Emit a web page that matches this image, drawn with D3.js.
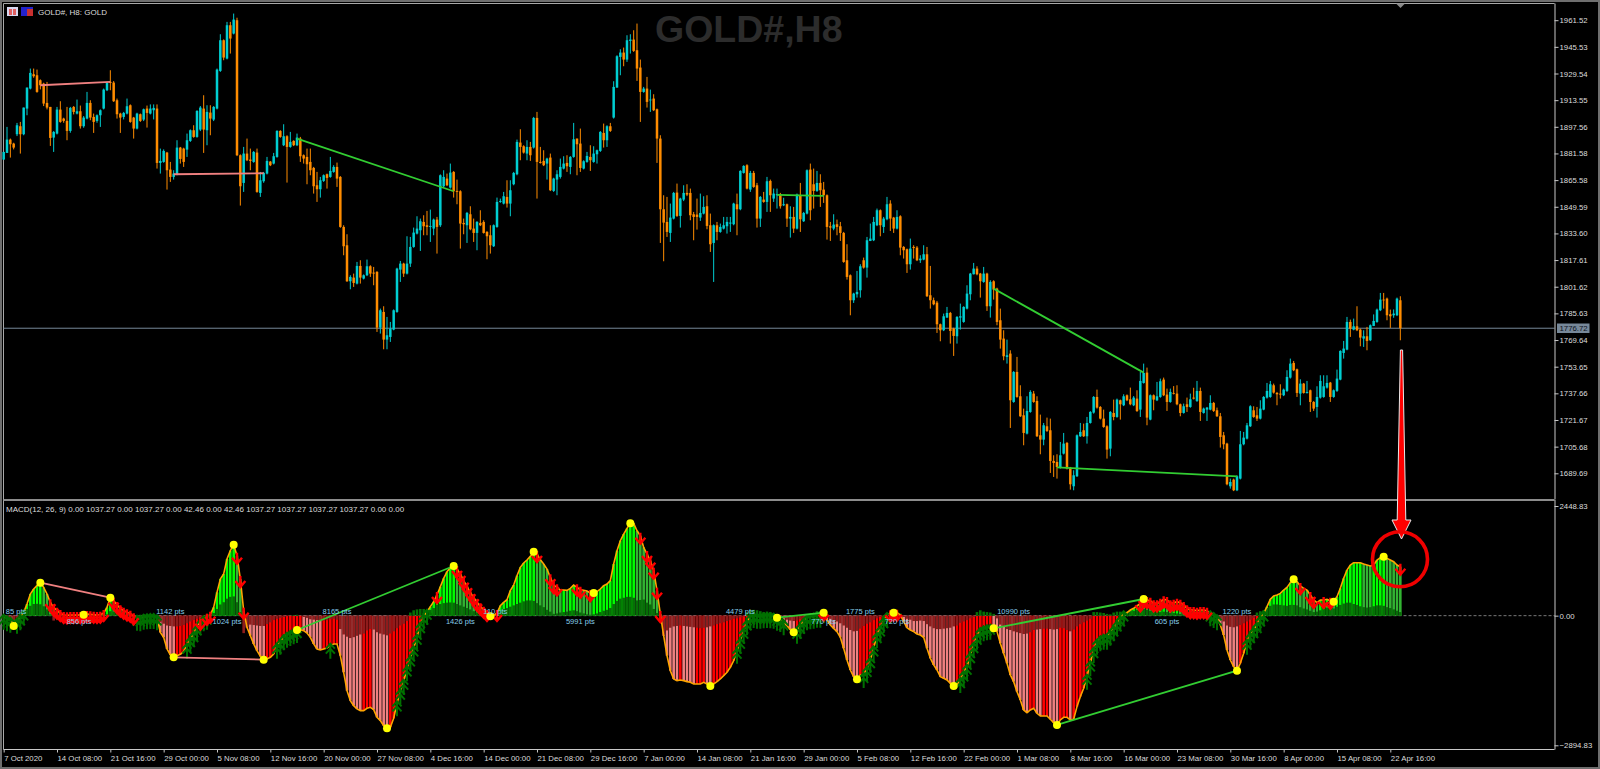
<!DOCTYPE html>
<html>
<head>
<meta charset="utf-8">
<script src="https://cdn.jsdelivr.net/npm/d3@7"></script>
<style>
html, body { margin: 0; padding: 0; background: #000; overflow: hidden; }
svg { display: block; }
text { font-family: "Liberation Sans", Arial, sans-serif; }
</style>
</head>
<body>
<div id="chart"></div>
<script>
// H8 candles
var opens = [
1877.9,1881.9,1889.9,1887.5,1893.1,1897.9,1893.1,1908.5,1920.5,1929.1,
1928.5,1925.5,1923.5,1911.9,1909.5,1891.1,1893.5,1907.9,1902.5,1901.1,
1895.1,1909.5,1905.5,1906.9,1897.9,1902.5,1911.9,1903.5,1901.1,1904.5,
1908.5,1919.5,1924.5,1924.1,1913.5,1905.5,1903.5,1905.5,1910.5,1903.1,
1896.5,1905.1,1901.9,1908.5,1905.5,1907.5,1908.5,1875.9,1876.5,1882.1,
1871.9,1867.5,1869.1,1885.1,1884.5,1883.9,1889.1,1895.5,1891.5,1895.9,
1908.5,1895.5,1906.1,1901.9,1908.5,1931.1,1949.5,1938.5,1958.5,1953.5,
1961.5,1880.5,1863.9,1881.5,1877.9,1876.5,1882.1,1857.9,1864.9,1869.5,
1876.7,1875.5,1879.5,1895.1,1886.5,1891.9,1885.5,1889.1,1886.5,1890.5,
1880.5,1879.5,1876.5,1872.9,1862.5,1860.1,1865.1,1869.1,1867.5,1870.5,
1873.5,1867.5,1837.5,1826.5,1804.9,1807.1,1803.5,1814.1,1806.5,1808.5,
1813.9,1810.1,1810.5,1777.1,1786.5,1769.9,1771.5,1775.9,1786.5,1811.9,
1815.5,1809.5,1815.5,1825.5,1833.5,1835.5,1840.5,1838.5,1837.5,1836.5,
1841.9,1838.5,1861.9,1866.5,1861.1,1870.5,1859.1,1858.9,1839.9,1838.5,
1845.1,1836.5,1833.9,1839.9,1840.5,1834.5,1832.5,1825.9,1837.5,1852.5,
1851.5,1855.5,1851.5,1863.1,1869.1,1888.1,1885.9,1881.5,1885.5,1885.1,
1902.9,1876.5,1877.1,1875.5,1879.1,1859.1,1865.9,1867.5,1872.5,1875.9,
1873.5,1879.5,1890.5,1887.5,1872.5,1876.5,1879.5,1876.5,1881.1,1883.1,
1893.9,1889.5,1897.9,1903.1,1921.1,1939.5,1942.1,1937.9,1949.1,1949.9,
1943.5,1933.1,1918.5,1920.5,1913.5,1914.5,1908.1,1890.5,1848.1,1840.5,
1833.9,1842.5,1858.1,1844.1,1853.9,1857.9,1857.9,1845.1,1844.9,1843.1,
1845.5,1849.9,1838.5,1827.9,1838.5,1834.5,1836.5,1837.9,1839.5,1839.1,
1851.1,1848.1,1869.9,1874.5,1859.9,1869.9,1862.5,1842.5,1853.9,1852.5,
1865.1,1854.5,1856.5,1857.1,1850.5,1851.1,1842.5,1843.5,1836.5,1856.5,
1840.9,1845.5,1871.9,1863.1,1859.1,1863.9,1859.9,1856.5,1837.9,1836.5,
1839.1,1837.9,1833.9,1817.5,1808.5,1793.5,1797.1,1799.5,1817.5,1813.1,
1829.1,1829.5,1838.5,1847.5,1837.5,1842.1,1851.5,1843.1,1836.5,1843.9,
1825.5,1824.1,1815.1,1825.5,1825.1,1817.5,1817.9,1821.1,1796.5,1793.5,
1792.1,1779.1,1775.5,1783.1,1785.9,1776.5,1771.9,1783.1,1780.5,1788.5,
1797.1,1809.1,1812.5,1809.5,1804.5,1809.5,1789.9,1804.9,1800.5,1781.5,
1770.5,1759.5,1761.5,1732.5,1750.5,1735.9,1724.5,1713.5,1726.5,1737.5,
1733.1,1712.5,1709.9,1717.9,1715.5,1697.1,1696.5,1693.1,1701.5,1707.9,
1693.1,1681.9,1687.9,1711.9,1715.5,1711.9,1719.9,1726.1,1735.5,1729.5,
1722.5,1717.9,1704.5,1725.9,1723.5,1733.5,1730.5,1736.5,1734.1,1730.5,
1734.5,1727.9,1743.9,1750.1,1721.9,1736.5,1733.5,1735.5,1745.9,1736.9,
1732.5,1737.9,1737.5,1731.1,1725.9,1731.1,1729.5,1735.1,1733.1,1739.1,
1725.9,1727.9,1727.9,1731.9,1727.5,1723.9,1712.5,1707.5,1681.9,1685.9,
1679.5,1686.5,1707.1,1710.5,1717.9,1727.5,1724.5,1722.5,1727.9,1735.1,
1735.5,1742.5,1737.9,1737.5,1736.5,1739.1,1747.1,1755.9,1752.1,1737.5,
1743.5,1737.9,1739.5,1732.5,1729.5,1735.1,1735.5,1741.1,1744.1,1735.5,
1739.1,1745.9,1761.9,1763.9,1780.5,1775.9,1777.9,1775.9,1770.5,1771.9,
1769.5,1778.1,1780.5,1787.5,1793.9,1794.5,1785.1,1784.5,1784.5,1793.5];
var closes = [
1882.5,1889.9,1887.1,1885.1,1898.5,1893.1,1909.1,1921.1,1929.9,1927.9,
1918.5,1922.5,1911.5,1909.1,1890.9,1894.5,1907.9,1900.5,1901.1,1895.1,
1908.9,1906.5,1906.9,1897.9,1903.1,1911.9,1903.1,1900.5,1904.5,1907.5,
1919.9,1923.9,1923.9,1912.9,1905.1,1903.1,1905.9,1909.9,1900.5,1896.5,
1905.5,1901.1,1908.1,1905.9,1908.5,1908.9,1875.9,1877.1,1883.1,1871.5,
1867.5,1869.5,1885.1,1878.3,1876.5,1889.5,1895.5,1891.5,1907.1,1909.1,
1895.9,1906.5,1902.5,1909.5,1931.9,1949.5,1939.1,1958.5,1950.5,1961.9,
1880.5,1861.9,1881.5,1877.5,1877.1,1882.5,1858.5,1865.5,1869.9,1877.1,
1874.5,1879.9,1895.1,1891.5,1891.9,1885.5,1888.5,1886.5,1891.1,1879.9,
1878.5,1875.1,1871.5,1861.9,1860.1,1865.5,1868.5,1866.9,1871.1,1873.5,
1866.5,1837.5,1825.9,1804.9,1807.5,1803.9,1814.1,1807.1,1808.5,1813.9,
1809.5,1809.5,1777.1,1787.5,1769.9,1772.5,1776.5,1787.5,1812.5,1815.5,
1809.5,1815.5,1825.5,1834.1,1836.5,1840.9,1837.9,1837.5,1838.1,1841.9,
1837.5,1868.5,1867.5,1862.5,1870.1,1858.9,1858.5,1839.5,1839.1,1845.9,
1836.1,1833.9,1840.5,1838.5,1833.9,1831.9,1826.5,1838.5,1852.5,1853.1,
1855.9,1851.5,1859.5,1869.9,1888.5,1885.5,1882.1,1885.5,1880.5,1902.9,
1876.5,1875.9,1874.5,1878.5,1859.5,1866.5,1869.1,1873.5,1875.5,1873.9,
1879.5,1890.1,1887.1,1872.9,1876.9,1880.1,1877.5,1881.5,1883.5,1894.5,
1889.5,1897.9,1895.1,1921.5,1939.9,1942.1,1937.9,1949.5,1949.9,1943.1,
1932.5,1918.5,1920.5,1912.5,1913.9,1907.5,1890.5,1848.1,1840.1,1834.5,
1843.1,1857.9,1844.1,1854.5,1857.9,1856.9,1844.5,1843.5,1843.5,1845.9,
1849.5,1838.1,1827.1,1838.5,1834.5,1837.5,1838.5,1840.5,1840.1,1851.5,
1848.1,1871.1,1874.1,1860.5,1869.9,1861.5,1842.5,1855.5,1852.5,1864.9,
1856.5,1857.5,1857.1,1849.9,1851.1,1842.5,1843.5,1836.5,1856.9,1842.1,
1845.9,1871.5,1847.5,1859.1,1863.9,1859.5,1856.5,1837.5,1837.1,1838.9,
1837.5,1833.9,1816.5,1807.5,1793.5,1797.5,1798.5,1813.9,1813.1,1829.5,
1830.5,1840.5,1847.5,1838.5,1842.5,1851.1,1842.5,1836.5,1843.5,1825.1,
1823.5,1815.1,1824.5,1824.9,1817.5,1818.5,1821.1,1795.9,1793.5,1791.1,
1779.1,1775.5,1783.9,1785.9,1775.1,1772.1,1783.5,1783.9,1789.5,1797.5,
1809.5,1812.5,1809.1,1804.9,1809.5,1789.9,1804.5,1799.9,1780.5,1769.9,
1759.9,1760.5,1733.5,1750.5,1735.5,1723.9,1713.9,1727.1,1738.5,1732.5,
1711.9,1709.9,1718.5,1715.1,1697.1,1695.9,1693.5,1700.5,1707.5,1692.5,
1683.1,1688.5,1712.5,1714.5,1711.9,1719.9,1726.5,1735.5,1729.1,1722.5,
1717.5,1703.9,1726.5,1723.5,1733.9,1731.1,1735.9,1733.5,1731.1,1735.1,
1727.1,1745.1,1749.9,1723.1,1736.5,1733.9,1735.9,1744.9,1736.5,1732.5,
1738.5,1737.5,1731.1,1725.9,1729.9,1729.5,1734.1,1734.5,1739.1,1726.5,
1728.5,1729.1,1731.9,1727.1,1723.9,1711.5,1707.1,1683.1,1684.5,1679.5,
1687.9,1707.1,1711.1,1718.5,1729.9,1723.5,1722.5,1728.5,1735.5,1739.1,
1743.1,1738.1,1737.1,1736.9,1739.9,1747.5,1755.5,1751.5,1737.9,1743.5,
1737.9,1738.5,1732.5,1728.5,1735.5,1745.1,1741.9,1743.9,1735.5,1739.5,
1746.5,1763.1,1764.5,1780.5,1776.5,1777.9,1775.5,1771.1,1771.9,1769.1,
1778.5,1781.1,1787.9,1793.9,1793.5,1784.5,1783.9,1785.5,1794.5,1776.72];
var highs = [
1882.5,1897.5,1890.5,1888,1899.9,1900.5,1909.1,1921.1,1932.5,1932.5,
1931.9,1926,1924,1924.5,1909.5,1895,1909.5,1912.9,1903,1909.5,
1909.5,1910,1913.9,1910.3,1904,1918.5,1913.5,1905.5,1905,1908,
1920.5,1924.5,1931.5,1925,1914.5,1906,1906.5,1914.5,1911,1903.5,
1906,1905.5,1908.5,1910.3,1911,1911,1911,1884.5,1884,1882.5,
1876.5,1871.5,1889.5,1885.5,1885,1893.5,1896,1898.5,1907.5,1910,
1916.5,1910.5,1910.5,1910,1932.5,1953.1,1950,1960.5,1960.5,1965.5,
1963,1881,1885.5,1890.5,1884.5,1883,1884.5,1870.5,1870.5,1879.5,
1877,1881.9,1895.5,1895.5,1899.1,1892.5,1894.5,1889.5,1893.5,1891.5,
1881,1884.5,1884.5,1873.5,1870.5,1867.5,1869,1869.5,1879.5,1874.5,
1876.1,1868,1838.5,1833.1,1808.5,1809.5,1816.5,1817.5,1809,1817.9,
1814.5,1813.5,1811,1788.5,1789.9,1783.5,1780.5,1788,1813,1817.1,
1816,1831.9,1831.5,1837.1,1843.9,1842.5,1844.5,1847.1,1847.9,1842.5,
1843.5,1869,1871.5,1869.5,1875.5,1871,1865.9,1859.5,1842.5,1846.5,
1849.9,1842.5,1841,1847.5,1841.5,1835,1838.5,1839,1855.1,1854.5,
1858.5,1865.5,1865.5,1870.5,1889.9,1896.1,1886.5,1889.5,1888.5,1903.5,
1906.5,1885.5,1883.5,1879,1881.5,1867,1871.5,1878.5,1879.9,1880.5,
1880,1899.9,1890.5,1896.5,1877.5,1882.5,1886.5,1885.9,1883.9,1895,
1899.5,1898.5,1899.9,1924.9,1940.5,1944.1,1945.1,1952.5,1953.1,1955.5,
1959.5,1937.9,1921.5,1927.5,1919.9,1917.1,1908.5,1892.5,1856.5,1855.5,
1851.5,1858.5,1863.5,1855,1862.5,1863.1,1860.5,1846.5,1854.5,1857.5,
1855.9,1856.5,1845.5,1839,1840.5,1839.5,1843.5,1843.5,1843.5,1852,
1857.5,1871.5,1874.5,1875.1,1871.1,1871.1,1863.9,1856,1858.5,1867.5,
1865.9,1860.5,1860.5,1857.9,1855,1851.5,1849.9,1849.5,1857.5,1863.9,
1846.5,1872,1875.5,1872.5,1871.1,1869.1,1864.5,1857,1840.5,1845.1,
1841.9,1840.5,1834.5,1827.1,1809,1798,1811.1,1815.1,1819.1,1831.5,
1839.5,1843.5,1848.5,1848,1843.5,1855.5,1853.5,1843.5,1847.5,1844.5,
1826,1824.5,1830.5,1826.5,1826,1820.5,1826.5,1825.5,1814.1,1795.1,
1793.1,1779.5,1785.5,1789.5,1786.5,1777,1784,1791.5,1789.9,1802.5,
1809.9,1815.9,1813.9,1809.9,1813.5,1810,1805.5,1805.5,1801,1788.5,
1775.5,1769.9,1763.5,1751,1759.5,1742.5,1728.5,1735.9,1739.5,1739.1,
1735.9,1724.9,1719.9,1723.1,1722.5,1700.5,1701.1,1708.5,1713.9,1708.5,
1693.5,1691.5,1713,1719.9,1719.5,1723.5,1727,1736,1739.9,1730,
1727.9,1718.5,1727,1733.9,1734.5,1733.9,1737.1,1737,1741.1,1736,
1739.5,1750.5,1755.5,1753.1,1737,1737,1744.5,1746.5,1747.1,1740.5,
1740.5,1742,1742.5,1731.5,1731.5,1735.1,1737.5,1741,1745.1,1741.1,
1729.1,1729.5,1736.5,1732.5,1729.1,1725.9,1714.5,1708,1686.5,1686.5,
1688.5,1715.1,1714.5,1719.9,1730.5,1729.9,1729.5,1733.5,1736,1743.9,
1745.1,1743.5,1738.5,1743.1,1740.5,1751.5,1758.5,1757.1,1752.5,1746.1,
1743.9,1745.1,1739.9,1733,1741.9,1748.5,1748.5,1748.5,1744.5,1740,
1751.9,1763.5,1769.1,1783.5,1781.9,1782.5,1789.9,1776.5,1775.5,1777.5,
1779,1785,1788.5,1797.9,1797.9,1795.1,1787.9,1788,1795.1,1795.9];
var lows = [
1877.9,1881.9,1879.1,1884,1892,1881.5,1892.5,1904.5,1920,1927,
1918,1920,1910,1908,1886.1,1882.5,1893,1900,1900,1889.5,
1894,1905,1905,1896.5,1897,1902,1901.5,1893.9,1900,1897.5,
1908,1919,1919.5,1912.5,1902.5,1893.9,1902,1905,1900,1890.5,
1896,1900.5,1901,1897.1,1905,1902,1872.5,1869.5,1876,1859.9,
1864.5,1865.9,1868.5,1875.5,1873.5,1879.5,1888.5,1891,1891,1895,
1881.9,1886.5,1892.5,1901,1908,1930.5,1937.5,1938,1941.5,1953,
1880,1850.3,1858.5,1877,1871.5,1876,1858,1855.5,1864,1869,
1874,1875,1879,1891,1886,1864.1,1885,1886,1886,1876.5,
1875.5,1863.1,1868.5,1857.5,1852.5,1855.1,1864.5,1860.5,1867,1870,
1861.5,1837,1820.5,1804.5,1800.1,1801.5,1803,1803.5,1806,1808,
1807.5,1802.5,1774.5,1773.5,1764.1,1764.1,1768.5,1775.5,1786,1804.5,
1807.5,1809,1813.5,1825,1833,1823.1,1832.5,1832.5,1828.5,1832.5,
1821.5,1837.5,1861,1862,1860.5,1855.1,1851.1,1824.5,1833.1,1827.9,
1835.5,1828.5,1823.5,1838,1833.5,1818.1,1821.5,1825.5,1837,1852,
1851,1849.1,1843.9,1862.5,1868.5,1877.5,1881.5,1877.5,1877.1,1884.5,
1854.5,1875.5,1874,1865.9,1859,1858.5,1856.5,1866.5,1872,1870.5,
1869.1,1879,1868.5,1870.5,1872,1876,1871.1,1876,1875.5,1882.5,
1885.1,1885.5,1894.5,1902.5,1921,1928.5,1933.9,1936.5,1941.5,1942.5,
1925.1,1900.5,1918,1909.1,1906.5,1907,1875.9,1827.9,1816.9,1831.5,
1828.5,1842,1843.5,1837.1,1853,1856,1841.5,1829.5,1835.9,1841.1,
1845,1836.1,1822.5,1804.5,1829.5,1834,1836,1833.5,1834.5,1838.5,
1832.5,1847.5,1869.5,1860,1858.5,1861,1837.1,1837.5,1852,1846.5,
1846.5,1852.5,1848.5,1848.5,1850,1837.5,1831.1,1833.9,1836,1834.5,
1840.5,1845,1841.5,1848.5,1858.5,1849.5,1851.9,1829.9,1829.1,1835.5,
1832.5,1829.1,1816,1805.9,1784.5,1791.9,1795.1,1795.1,1812.5,1807.1,
1829,1829,1838,1831.9,1833.9,1841.5,1835.1,1833.9,1836,1820.5,
1818.5,1809.9,1811.9,1818.5,1817,1815.9,1817.5,1795.5,1788.5,1790.5,
1773.9,1768.9,1775,1783,1767.5,1760.1,1767.5,1775.9,1780,1788,
1793.5,1809,1808.5,1795.1,1804,1787.1,1783.1,1793.9,1778.5,1764.5,
1757.5,1755.5,1716.9,1732,1735,1723.5,1706.5,1713,1726,1732,
1711.5,1701.1,1706.5,1714.5,1689.9,1687.5,1686.5,1692.5,1701,1692,
1679.9,1679.5,1687.5,1711.5,1711.5,1707.5,1719.5,1725.5,1728.5,1722,
1717,1698.5,1699.9,1721.5,1723,1721.9,1730,1733,1730.5,1730,
1726.5,1723.5,1743.5,1718.5,1721.5,1727.5,1733,1735,1736,1727.1,
1732,1737,1730.5,1723.9,1725.5,1726.5,1729,1734,1732.5,1721.1,
1725.5,1721.1,1727.5,1726.5,1723.5,1705.1,1704.1,1682.5,1680.5,1679,
1679,1686,1706.5,1710,1717.5,1723,1721.1,1722,1727.5,1734.5,
1735,1737.5,1730.5,1734.5,1736,1738.5,1746.5,1751,1735.5,1730.5,
1737.5,1737.5,1726.5,1727.1,1723.1,1734.5,1735,1740.5,1732.5,1735,
1738.5,1745.5,1758.5,1763.5,1771.5,1775.5,1775,1765.9,1765.5,1763.5,
1769,1778,1780,1787,1788.5,1781.5,1776.9,1783,1784,1769.5];

// MACD line (orange) and the darker inner histogram
var macdLine = [
-22,-60,-89,-231,-112,-37,74,260,484,595,
670,737,632,484,298,186,112,60,15,7,
15,15,15,15,22,37,30,22,15,22,
60,186,402,335,238,164,112,74,45,-15,
-45,-60,-22,-15,-7,-7,-37,-372,-484,-744,
-878,-930,-893,-863,-804,-670,-521,-409,-260,-134,
-60,-22,22,186,521,818,930,1265,1451,1585,
1339,818,112,-260,-446,-632,-781,-908,-982,-967,
-930,-856,-670,-580,-484,-424,-387,-350,-320,-312,
-335,-387,-484,-632,-744,-766,-744,-722,-670,-632,
-632,-893,-1265,-1674,-1897,-2009,-2083,-2120,-2120,-2068,
-2046,-2098,-2269,-2344,-2455,-2515,-2492,-2292,-1957,-1696,
-1473,-1176,-952,-729,-469,-208,-22,89,201,312,
461,647,833,982,1071,1109,1042,930,781,655,
521,409,298,208,134,60,-15,0,60,223,
298,357,558,684,893,1079,1176,1242,1324,1428,
1376,1250,1153,1042,856,684,632,573,573,565,
610,684,632,580,565,551,506,506,536,595,
670,707,781,1153,1451,1674,1823,1949,2061,2061,
1897,1786,1525,1376,1228,1004,558,37,-446,-893,
-1228,-1414,-1451,-1436,-1451,-1473,-1488,-1525,-1525,-1525,
-1488,-1525,-1570,-1525,-1473,-1414,-1339,-1265,-1153,-1004,
-781,-558,-335,-149,-22,15,0,0,7,15,
7,0,-45,-74,-149,-223,-312,-372,-335,-223,
-112,-37,-15,0,22,22,67,-97,-208,-283,
-357,-484,-729,-990,-1213,-1362,-1421,-1324,-1324,-1190,
-990,-729,-432,-283,-97,15,52,67,67,15,
-134,-268,-320,-357,-409,-432,-484,-729,-952,-1101,
-1213,-1362,-1399,-1436,-1510,-1570,-1548,-1436,-1287,-1138,
-878,-655,-469,-320,-283,-260,-246,-283,-357,-618,
-841,-1064,-1324,-1473,-1696,-1882,-2106,-2165,-2106,-2068,
-2180,-2239,-2239,-2239,-2314,-2388,-2440,-2329,-2269,-2269,
-2329,-2314,-2031,-1808,-1622,-1362,-1064,-766,-580,-506,
-469,-469,-379,-283,-171,-60,52,67,126,164,
216,275,372,350,335,275,275,312,365,350,
275,290,312,290,238,164,126,126,112,126,
126,112,52,15,-37,-208,-432,-766,-990,-1138,
-1228,-1064,-841,-580,-432,-320,-208,-60,52,201,
365,439,461,498,573,632,737,811,759,662,
610,573,461,350,290,350,350,365,335,312,
424,610,833,1019,1131,1183,1183,1183,1153,1131,
1109,1131,1242,1295,1317,1280,1242,1205,1131,1094];
var innerBars = [
-70,-90,-100,-100,-60,-20,60,150,220,260,
265,255,210,140,30,-110,-60,-20,-30,-50,
-20,-10,-10,-5,5,10,5,-5,-10,-5,
5,30,100,90,70,50,30,20,10,0,
10,20,25,25,20,15,-90,-140,-180,-220,
-230,-240,-240,-230,-210,-170,-130,-100,-70,-40,
-20,-10,-5,60,150,250,300,380,420,430,
300,80,-390,-280,-200,-210,-220,-230,-230,-190,
-150,-100,-70,-50,-30,-10,5,15,20,0,
-30,-50,-80,-90,-100,-110,-110,-100,-80,-70,
-90,-300,-420,-470,-500,-480,-450,-420,-400,-330,
-300,-310,-370,-400,-420,-440,-400,-350,-280,-220,
-180,-120,70,120,140,150,150,100,130,170,
240,260,280,290,295,290,260,230,200,170,
140,100,70,40,20,-30,-60,-30,20,110,
150,170,200,230,260,290,320,340,340,330,
280,230,190,130,90,40,50,70,80,90,
110,120,100,70,50,30,20,30,50,80,
110,130,170,260,330,380,400,420,420,400,
340,350,360,290,250,150,60,-60,-440,-330,
-270,-240,-230,-220,-230,-240,-250,-260,-270,-280,
-270,-260,-240,-220,-190,-170,-150,-120,-100,-70,
-60,-40,-20,80,130,130,120,100,80,90,
80,60,20,-20,-60,-90,-110,-120,-110,-80,
-50,-20,0,60,100,100,60,-40,-70,-100,
-130,-170,-220,-270,-320,-350,-340,-290,-230,-180,
-150,-100,-60,-30,10,60,90,100,70,50,
-30,-70,-90,-120,-120,-110,-120,-190,-240,-280,
-300,-300,-290,-280,-270,-240,-220,-160,-130,-100,
-60,-30,80,120,90,80,70,40,-60,-200,
-250,-300,-320,-350,-370,-390,-410,-400,-370,-320,
-310,-300,-290,-290,-300,-310,-300,-270,-280,-320,
-350,-310,-240,-190,-150,-110,-70,80,80,70,
60,40,30,70,90,90,80,90,100,110,
130,140,150,130,110,90,80,80,90,80,
60,60,50,40,20,10,10,5,5,5,
10,30,50,30,-20,-70,-130,-220,-250,-260,
-240,-210,-170,-130,-90,-50,70,100,120,170,
220,250,250,240,230,220,240,240,230,190,
160,140,110,80,90,120,160,180,170,160,
200,240,270,290,290,260,240,210,190,180,
190,210,230,230,220,190,170,140,110,80];

var upArrows = [0,1,2,4,5,6,40,41,42,43,44,45,46,55,56,57,58,59,60,61,82,83,84,85,86,87,88,98,118,119,120,121,122,123,124,125,126,127,
  220,221,222,223,224,225,226,227,228,229,230,231,232,233,234,238,239,240,241,242,243,244,245,
  258,259,260,261,262,263,264,265,287,288,289,290,291,292,293,294,295,296,325,326,327,328,329,330,331,332,333,334,335,336,362,363,364,373,374,375,376,377,378];
var downArrows = [14,15,16,17,18,19,20,21,22,23,24,25,26,27,28,29,30,33,34,35,36,37,38,39,59,61,62,70,71,72,
  130,136,137,138,139,140,141,142,143,144,145,148,160,164,165,166,172,173,176,191,193,194,195,196,197,
  246,266,267,268,341,342,343,344,345,346,347,348,349,350,351,352,353,354,355,356,357,358,359,360,361,389,392,393,396,398,419];
var dots = [3,11,24,32,51,69,78,88,115,135,146,159,177,188,212,232,237,246,256,267,285,297,316,342,370,387,399,414];

var divStart = [11,51,88,232,297,316];
var divEnd = [32,78,135,246,342,370];
var divPriceStart = [1922.5,1869.1,1890.5,1856.7,1800.5,1693.3];
var divPriceEnd = [1924.5,1869.7,1858.9,1856.1,1750.1,1687.9];
var divColors = ["#f08080","#f08080","#32cd32","#32cd32","#32cd32","#32cd32"];

var ptsText = ["85 pts","856 pts","1142 pts","1024 pts","8165 pts","1426 pts","110 pts","5991 pts","4479 pts","770 pts","1775 pts","720 pts","10990 pts","605 pts","1220 pts"];
var ptsIndex = [3.7,22.6,50,67,100,137,147.5,173,221,246,257,268,303,349,370];
var ptsBelow = [0,1,0,1,0,1,0,1,0,1,0,1,0,1,0];

var priceTicks = [1961.52,1945.53,1929.54,1913.55,1897.56,1881.58,1865.58,1849.59,1833.60,1817.61,1801.62,1785.63,1769.64,1753.65,1737.66,1721.67,1705.68,1689.69];
var macdTicks = [2448.83,0,-2894.83];
var timeLabels = ["7 Oct 2020","14 Oct 08:00","21 Oct 16:00","29 Oct 00:00","5 Nov 08:00","12 Nov 16:00","20 Nov 00:00","27 Nov 08:00","4 Dec 16:00","14 Dec 00:00","21 Dec 08:00","29 Dec 16:00","7 Jan 00:00","14 Jan 08:00","21 Jan 16:00","29 Jan 00:00","5 Feb 08:00","12 Feb 16:00","22 Feb 00:00","1 Mar 08:00","8 Mar 16:00","16 Mar 00:00","23 Mar 08:00","30 Mar 16:00","8 Apr 00:00","15 Apr 08:00","22 Apr 16:00"];
var lastPrice = 1776.72;

var W = 1600, H = 769;
var plotLeft = 3.5, plotRight = 1554.5, mainTop = 3.5, mainBottom = 499.5, lowBottom = 749.5;

var svg = d3.select("#chart").append("svg").attr("width", W).attr("height", H);
svg.append("rect").attr("width", W).attr("height", H).attr("fill", "#000");

var x = d3.scaleLinear().domain([0, 419]).range([3.67, 3.67 + 419 * 3.3333]);
var y = d3.scaleLinear().domain([1961.52, 1689.69]).range([20.2, 473.3]);
var yM = d3.scaleLinear().domain([2448.83, -2894.83]).range([506, 745.3]);
var bars = d3.range(opens.length);

// frame
svg.append("rect").attr("x", 1).attr("y", 1).attr("width", W - 2).attr("height", H - 2)
    .attr("fill", "none").attr("stroke", "#6e6e6e").attr("stroke-width", 2);
svg.append("path")
    .attr("d", "M" + plotLeft + "," + lowBottom + "V" + mainTop + "H" + plotRight)
    .attr("fill", "none").attr("stroke", "#a8a8a8");
svg.append("line").attr("x1", plotLeft).attr("x2", plotRight).attr("y1", 500).attr("y2", 500)
    .attr("stroke", "#8c8c8c").attr("stroke-width", 2);

// watermark
svg.append("text").attr("x", 655).attr("y", 41.5)
    .style("font-size", "37.5px").style("font-weight", "700").style("fill", "#2c2c2c")
    .text("GOLD#,H8");

// last price line
svg.append("line").attr("x1", plotLeft).attr("x2", plotRight)
    .attr("y1", y(lastPrice)).attr("y2", y(lastPrice))
    .attr("stroke", "#778899").attr("stroke-width", 1);

// candles
var candleColor = function(i) { return closes[i] >= opens[i] ? "#00ced1" : "#ff8c00"; };
svg.append("g").selectAll("line").data(bars).enter().append("line")
    .attr("x1", function(i) { return x(i); })
    .attr("x2", function(i) { return x(i); })
    .attr("y1", function(i) { return y(highs[i]); })
    .attr("y2", function(i) { return y(lows[i]); })
    .attr("stroke", candleColor).attr("stroke-width", 1);
svg.append("g").selectAll("rect").data(bars).enter().append("rect")
    .attr("x", function(i) { return x(i) - 1.25; })
    .attr("width", 2.5)
    .attr("y", function(i) { return y(Math.max(opens[i], closes[i])); })
    .attr("height", function(i) { return Math.max(0.8, Math.abs(y(opens[i]) - y(closes[i]))); })
    .attr("fill", candleColor);

// divergences on price
svg.append("g").selectAll("line").data(divStart).enter().append("line")
    .attr("x1", function(d) { return x(d); })
    .attr("x2", function(d, k) { return x(divEnd[k]); })
    .attr("y1", function(d, k) { return y(divPriceStart[k]); })
    .attr("y2", function(d, k) { return y(divPriceEnd[k]); })
    .attr("stroke", function(d, k) { return divColors[k]; }).attr("stroke-width", 1.8);

// MACD panel
svg.append("line").attr("x1", plotLeft).attr("x2", plotRight)
    .attr("y1", yM(0)).attr("y2", yM(0))
    .attr("stroke", "#777").attr("stroke-dasharray", "3,2");

function barColor(i) {
    var rising = i === 0 || macdLine[i] >= macdLine[i - 1];
    if (macdLine[i] >= 0) return rising ? "#00ff00" : "#32b432";
    return rising ? "#ff0000" : "#f08080";
}
svg.append("g").selectAll("rect").data(bars).enter().append("rect")
    .attr("x", function(i) { return x(i) - 1.3; })
    .attr("width", 2.6)
    .attr("y", function(i) { return Math.min(yM(0), yM(macdLine[i])); })
    .attr("height", function(i) { return Math.abs(yM(macdLine[i]) - yM(0)); })
    .attr("fill", barColor);
svg.append("g").selectAll("rect").data(bars).enter().append("rect")
    .attr("x", function(i) { return x(i) - 1.3; })
    .attr("width", 2.6)
    .attr("y", function(i) { return Math.min(yM(0), yM(innerBars[i])); })
    .attr("height", function(i) { return Math.abs(yM(innerBars[i]) - yM(0)); })
    .attr("fill", function(i) { return innerBars[i] >= 0 ? "#066f06" : "#8f1c1c"; });

svg.append("path")
    .attr("d", d3.line().x(function(i) { return x(i); }).y(function(i) { return yM(macdLine[i]); })(bars))
    .attr("fill", "none").attr("stroke", "#ffa500").attr("stroke-width", 1.6);

var upShape = "M0,8V-7M-4.5,-2L0,-7L4.5,-2M-4.5,3L0,-2L4.5,3";
var downShape = "M0,-6V5M-5,-1L0,5L5,-1";
svg.append("g").selectAll("path").data(upArrows).enter().append("path")
    .attr("d", upShape)
    .attr("transform", function(i) { return "translate(" + x(i) + "," + (yM(macdLine[i]) + 5) + ")"; })
    .attr("fill", "none").attr("stroke", "#007000").attr("stroke-width", 2);
svg.append("g").selectAll("path").data(downArrows).enter().append("path")
    .attr("d", downShape)
    .attr("transform", function(i) { return "translate(" + x(i) + "," + (yM(macdLine[i]) + 3) + ")"; })
    .attr("fill", "none").attr("stroke", "#ff0000").attr("stroke-width", 2.4);

svg.append("g").selectAll("line").data(divStart).enter().append("line")
    .attr("x1", function(d) { return x(d); })
    .attr("x2", function(d, k) { return x(divEnd[k]); })
    .attr("y1", function(d) { return yM(macdLine[d]); })
    .attr("y2", function(d, k) { return yM(macdLine[divEnd[k]]); })
    .attr("stroke", function(d, k) { return divColors[k]; }).attr("stroke-width", 1.8);

svg.append("g").selectAll("circle").data(dots).enter().append("circle")
    .attr("cx", function(i) { return x(i); })
    .attr("cy", function(i) { return yM(macdLine[i]); })
    .attr("r", 4).attr("fill", "#ffff00");

svg.append("g").selectAll("text").data(ptsText).enter().append("text")
    .attr("x", function(d, k) { return x(ptsIndex[k]); })
    .attr("y", function(d, k) { return ptsBelow[k] ? 623.5 : 614; })
    .attr("text-anchor", "middle")
    .style("font-size", "7.5px").style("fill", "#87ceeb")
    .text(function(d) { return d; });

// axes
function styleAxis(g) {
    g.select(".domain").attr("stroke", "#c8c8c8");
    g.selectAll(".tick line").attr("stroke", "#c8c8c8");
    g.selectAll(".tick text").style("fill", "#dcdcdc").style("font-size", "7.8px")
        .style("font-family", '"Liberation Sans", Arial, sans-serif');
}
var priceAxis = svg.append("g").attr("transform", "translate(" + plotRight + ",0)")
    .call(d3.axisRight(y).tickValues(priceTicks).tickSize(4).tickPadding(1).tickFormat(d3.format(".2f")))
    .call(styleAxis);
priceAxis.select(".domain").attr("d", "M0.5," + mainTop + "V" + mainBottom);

var macdAxis = svg.append("g").attr("transform", "translate(" + plotRight + ",0)")
    .call(d3.axisRight(yM).tickValues(macdTicks).tickSize(4).tickPadding(1).tickFormat(d3.format(".2f")))
    .call(styleAxis);
macdAxis.select(".domain").attr("d", "M0.5,500V" + lowBottom);

var timeAxis = svg.append("g").attr("transform", "translate(0," + lowBottom + ")")
    .call(d3.axisBottom(x).tickValues(timeLabels.map(function(d, k) { return k * 16; }))
        .tickSize(3).tickFormat(function(d, k) { return timeLabels[k]; }))
    .call(styleAxis);
timeAxis.select(".domain").attr("d", "M" + plotLeft + ",0H" + plotRight);
timeAxis.selectAll(".tick text").attr("text-anchor", "start").attr("x", 0).attr("y", 6);

// last price tag
svg.append("rect").attr("x", 1557).attr("y", 323.5).attr("width", 32.5).attr("height", 9.5).attr("fill", "#778899");
svg.append("text").attr("x", 1559.5).attr("y", 331.2)
    .style("font-size", "7.8px").style("fill", "#0b1020").text(lastPrice.toFixed(2));

// header texts and icons
svg.append("rect").attr("x", 7).attr("y", 7).attr("width", 11).attr("height", 9).attr("fill", "#d8d8f0");
svg.append("rect").attr("x", 9).attr("y", 9).attr("width", 3).attr("height", 6).attr("fill", "#e06060");
svg.append("rect").attr("x", 13).attr("y", 9).attr("width", 3).attr("height", 6).attr("fill", "#e06060");
svg.append("rect").attr("x", 21).attr("y", 7).attr("width", 12).attr("height", 9).attr("fill", "#2222cc");
svg.append("rect").attr("x", 27).attr("y", 9).attr("width", 6).attr("height", 7).attr("fill", "#c83030");
svg.append("text").attr("x", 38).attr("y", 15)
    .style("font-size", "8px").style("fill", "#dcdcdc").text("GOLD#, H8:  GOLD");
svg.append("text").attr("x", 6).attr("y", 512)
    .style("font-size", "8px").style("fill", "#dcdcdc")
    .text("MACD(12, 26, 9) 0.00 1037.27 0.00 1037.27 0.00 42.46 0.00 42.46 1037.27 1037.27 1037.27 1037.27 0.00 0.00");

// shift marker at the top
svg.append("path").attr("d", "M1396,3.5H1405L1400.5,8Z").attr("fill", "#8a8a8a");

// the hand drawn arrow and circle
svg.append("path")
    .attr("d", "M1400.4,350H1402.6L1405.8,520H1411L1401.5,539L1392,520H1397.2Z")
    .attr("fill", "#ff0000").attr("stroke", "#e8e8e8").attr("stroke-width", 1);
svg.append("circle").attr("cx", 1400).attr("cy", 559.3).attr("r", 27.5)
    .attr("fill", "none").attr("stroke", "#f00000").attr("stroke-width", 3.6);
</script>
</body>
</html>
